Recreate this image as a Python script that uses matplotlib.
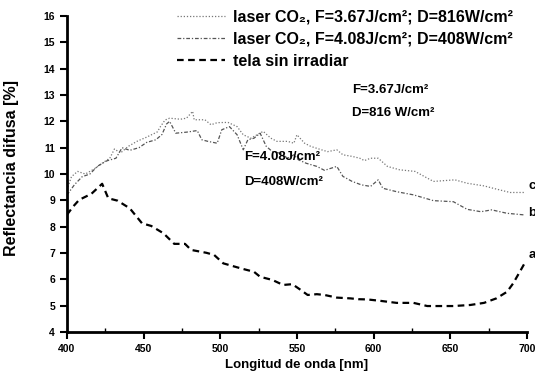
import matplotlib.pyplot as plt
from matplotlib.ticker import MultipleLocator

plt.rcParams["font.family"] = ["Liberation Sans", "DejaVu Sans"]

# curve a: untreated fabric
a_x = [400, 404, 408, 416, 423, 427, 433, 441, 449, 455, 463, 470, 477, 481, 491,
       496, 502, 511, 516, 522, 526, 534, 541, 547, 552, 557, 563, 568, 576, 585,
       590, 596, 604, 615, 626, 635, 644, 652, 663, 672, 680, 687, 691, 696, 699]
a_y = [8.45, 8.76, 9.02, 9.25, 9.63, 9.08, 8.99, 8.70, 8.13, 8.03, 7.75, 7.35, 7.35, 7.12, 7.01,
       6.93, 6.61, 6.46, 6.38, 6.29, 6.10, 5.98, 5.79, 5.82, 5.62, 5.41, 5.44, 5.41, 5.31, 5.28,
       5.25, 5.24, 5.19, 5.11, 5.11, 4.99, 4.99, 4.99, 5.03, 5.11, 5.28, 5.53, 5.85, 6.36, 6.67]

# curve c: F=3.67, D=816
c_x = [400, 403, 407, 412, 418, 424, 428, 431, 435, 440, 446, 452, 459, 461, 464,
       467, 474, 478, 482, 483, 490, 494, 498, 505, 511, 515, 520, 524, 528, 533,
       537, 544, 548, 550, 555, 559, 566, 570, 576, 580, 586, 591, 594, 598, 603,
       609, 617, 627, 639, 653, 661, 672, 680, 689, 698]
c_y = [9.4, 9.9, 10.1, 10.0, 10.2, 10.45, 10.6, 10.95, 10.8, 11.05, 11.25, 11.4, 11.6, 11.8, 12.05,
       12.12, 12.08, 12.12, 12.38, 12.06, 12.06, 11.87, 11.95, 11.96, 11.8, 11.49, 11.36, 11.49, 11.62, 11.36,
       11.24, 11.24, 11.17, 11.49, 11.17, 11.05, 10.92, 10.85, 10.92, 10.73, 10.67, 10.6, 10.51, 10.6, 10.6,
       10.29, 10.16, 10.1, 9.72, 9.78, 9.65, 9.55, 9.43, 9.3, 9.3]

# curve b: F=4.08, D=408
b_x = [400, 405, 410, 415, 420, 426, 432, 436, 441, 447, 452, 458, 462, 465, 467,
       471, 478, 485, 488, 492, 498, 501, 506, 511, 515, 518, 522, 526, 530, 534,
       539, 544, 548, 551, 556, 563, 568, 576, 580, 586, 592, 598, 603, 606, 615,
       626, 639, 652, 661, 670, 677, 687, 698]
b_y = [9.2, 9.6, 9.9, 10.0, 10.3, 10.5, 10.6, 11.0, 10.9, 11.0, 11.2, 11.3, 11.5, 11.9, 12.0,
       11.55, 11.59, 11.65, 11.3, 11.24, 11.17, 11.68, 11.8, 11.49, 10.92, 11.3, 11.36, 11.55, 11.05, 10.85,
       10.79, 10.6, 10.73, 10.54, 10.41, 10.29, 10.14, 10.29, 9.91, 9.72, 9.59, 9.53, 9.78, 9.46, 9.33,
       9.21, 8.99, 8.95, 8.66, 8.57, 8.64, 8.51, 8.45]

labels = ["laser CO\u2082, F=3.67J/cm\u00b2; D=816W/cm\u00b2",
          "laser CO\u2082, F=4.08J/cm\u00b2; D=408W/cm\u00b2",
          "tela sin irradiar"]

fig = plt.figure(figsize=(5.35, 3.8), dpi=100)
ax = fig.add_axes([0.125, 0.126, 0.86, 0.832])

ax.plot(c_x, c_y, color="#777777", lw=0.9, ls=(0, (1, 1.5)), label=labels[0])
ax.plot(b_x, b_y, color="#555555", lw=0.9, ls=(0, (3, 1.5, 1, 1.5)), label=labels[1])
ax.plot(a_x, a_y, color="black", lw=1.6, ls=(0, (3, 2)), label=labels[2])

ax.set_xlim(400, 700)
ax.set_ylim(4, 16)
ax.xaxis.set_major_locator(MultipleLocator(50))
ax.xaxis.set_minor_locator(MultipleLocator(25))
ax.yaxis.set_major_locator(MultipleLocator(1))

for s in ["top", "right"]:
    ax.spines[s].set_visible(False)
for s in ["left", "bottom"]:
    ax.spines[s].set_linewidth(2)

ax.tick_params(which="major", direction="out", length=5, width=1.5, labelsize=7.5)
ax.tick_params(axis="x", which="minor", direction="in", length=3, width=1)
for t in ax.get_xticklabels() + ax.get_yticklabels():
    t.set_fontweight("bold")

ax.set_xlabel("Longitud de onda [nm]", fontsize=9.5, fontweight="bold")
ax.set_ylabel("Reflectancia difusa [%]", fontsize=11.5, fontweight="bold")
ax.yaxis.set_label_coords(-0.105, 0.52)

ax.legend(loc="upper right", bbox_to_anchor=(0.97, 1.02), frameon=False,
          prop={"size": 11.5, "weight": "bold"}, handlelength=3.0, handletextpad=0.5,
          labelspacing=0.45, borderpad=0, borderaxespad=0)

ax.text(586, 13.2, "F=3.67J/cm\u00b2", fontsize=9.5, fontweight="bold", va="center")
ax.text(586, 12.3, "D=816 W/cm\u00b2", fontsize=9.5, fontweight="bold", va="center")
ax.text(515.5, 10.65, "F=4.08J/cm\u00b2", fontsize=9.5, fontweight="bold", va="center")
ax.text(515.5, 9.7, "D=408W/cm\u00b2", fontsize=9.5, fontweight="bold", va="center")

ax.text(701, 9.45, "c", fontsize=9.5, fontweight="bold", clip_on=False)
ax.text(701, 8.4, "b", fontsize=9.5, fontweight="bold", clip_on=False)
ax.text(701, 6.8, "a", fontsize=9.5, fontweight="bold", clip_on=False)

fig.savefig("out.png", dpi=100)
